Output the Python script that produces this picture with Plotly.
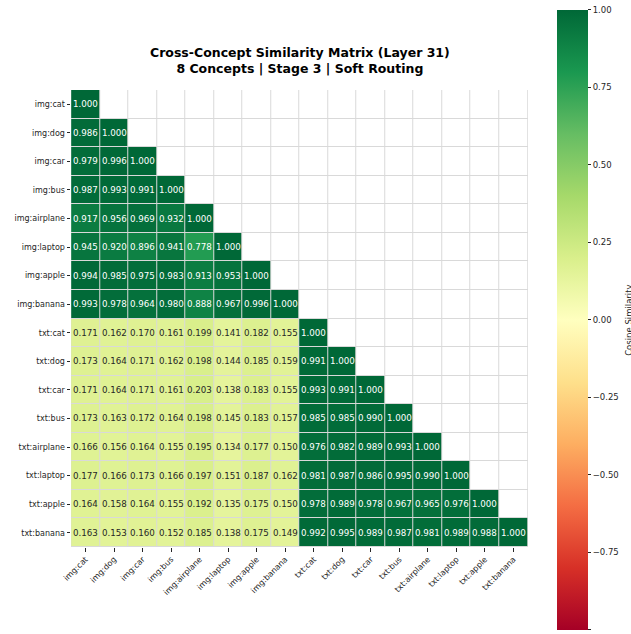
import plotly.graph_objects as go

# Concept labels: image embeddings followed by text embeddings
labels = [
    "img:cat", "img:dog", "img:car", "img:bus",
    "img:airplane", "img:laptop", "img:apple", "img:banana",
    "txt:cat", "txt:dog", "txt:car", "txt:bus",
    "txt:airplane", "txt:laptop", "txt:apple", "txt:banana",
]

# Lower-triangle cosine similarities, one list per row (diagonal included)
img_img = [
    [1.000],
    [0.986, 1.000],
    [0.979, 0.996, 1.000],
    [0.987, 0.993, 0.991, 1.000],
    [0.917, 0.956, 0.969, 0.932, 1.000],
    [0.945, 0.920, 0.896, 0.941, 0.778, 1.000],
    [0.994, 0.985, 0.975, 0.983, 0.913, 0.953, 1.000],
    [0.993, 0.978, 0.964, 0.980, 0.888, 0.967, 0.996, 1.000],
]
txt_img = [
    [0.171, 0.162, 0.170, 0.161, 0.199, 0.141, 0.182, 0.155],
    [0.173, 0.164, 0.171, 0.162, 0.198, 0.144, 0.185, 0.159],
    [0.171, 0.164, 0.171, 0.161, 0.203, 0.138, 0.183, 0.155],
    [0.173, 0.163, 0.172, 0.164, 0.198, 0.145, 0.183, 0.157],
    [0.166, 0.156, 0.164, 0.155, 0.195, 0.134, 0.177, 0.150],
    [0.177, 0.166, 0.173, 0.166, 0.197, 0.151, 0.187, 0.162],
    [0.164, 0.158, 0.164, 0.155, 0.192, 0.135, 0.175, 0.150],
    [0.163, 0.153, 0.160, 0.152, 0.185, 0.138, 0.175, 0.149],
]
txt_txt = [
    [1.000],
    [0.991, 1.000],
    [0.993, 0.991, 1.000],
    [0.985, 0.985, 0.990, 1.000],
    [0.976, 0.982, 0.989, 0.993, 1.000],
    [0.981, 0.987, 0.986, 0.995, 0.990, 1.000],
    [0.978, 0.989, 0.978, 0.967, 0.965, 0.976, 1.000],
    [0.992, 0.995, 0.989, 0.987, 0.981, 0.989, 0.988, 1.000],
]

n = len(labels)
rows = img_img + [a + b for a, b in zip(txt_img, txt_txt)]
z = [row + [None] * (n - len(row)) for row in rows]
mask = [[None if j <= i else 1 for j in range(n)] for i in range(n)]

FONT = "DejaVu Sans"
DARK = "#262626"

fig = go.Figure()

# Masked upper triangle: plain white cells
fig.add_trace(go.Heatmap(
    z=mask, x=labels, y=labels,
    colorscale=[[0, "white"], [1, "white"]],
    showscale=False, xgap=1, ygap=1, hoverinfo="skip",
))

# Similarity values
fig.add_trace(go.Heatmap(
    z=z, x=labels, y=labels,
    colorscale="RdYlGn", zmin=-1, zmax=1,
    xgap=1, ygap=1,
    colorbar=dict(
        x=1.0635, xanchor="left", xref="paper", xpad=0,
        y=0.497, yanchor="middle", ypad=0,
        len=620, lenmode="pixels",
        thickness=31, thicknessmode="pixels",
        outlinewidth=0,
        tickvals=[-1, -0.75, -0.5, -0.25, 0, 0.25, 0.5, 0.75, 1],
        tickformat=".2f",
        ticks="outside", ticklen=3.5, tickcolor=DARK, tickwidth=0.8,
        tickfont=dict(family=FONT, size=8.5, color=DARK),
    ),
))

# Cell value labels
annotations = []
for i, row in enumerate(rows):
    for j, v in enumerate(row):
        annotations.append(dict(
            x=labels[j], y=labels[i], text=f"{v:.3f}",
            showarrow=False,
            font=dict(family=FONT, size=8.7, color="white" if v > 0.5 else DARK),
        ))

annotations.append(dict(
    x=0.5, xref="paper", y=1, yref="paper", yshift=12, yanchor="bottom",
    text="<b>Cross-Concept Similarity Matrix (Layer 31)<br>8 Concepts | Stage 3 | Soft Routing</b>",
    showarrow=False, align="center",
    font=dict(family=FONT, size=12.5, color="black"),
))
annotations.append(dict(
    x=1.221, xref="paper", xanchor="center",
    y=0.497, yref="paper", yanchor="middle",
    text="Cosine Similarity", textangle=-90, showarrow=False,
    font=dict(family=FONT, size=8.5, color=DARK),
))

fig.update_layout(
    width=631, height=634,
    margin=dict(l=71, r=103, t=90, b=87, autoexpand=False),
    plot_bgcolor="#d9d9d9",
    paper_bgcolor="white",
    annotations=annotations,
    showlegend=False,
)
fig.update_xaxes(
    tickangle=-45, ticks="outside", ticklen=3.5, tickcolor=DARK, tickwidth=0.8,
    tickfont=dict(family=FONT, size=8, color=DARK),
    showgrid=False, zeroline=False, showline=False,
)
fig.update_yaxes(
    autorange="reversed", ticks="outside", ticklen=3.5, tickcolor=DARK, tickwidth=0.8,
    tickfont=dict(family=FONT, size=8, color=DARK),
    showgrid=False, zeroline=False, showline=False,
)

fig.write_html("out.html")
